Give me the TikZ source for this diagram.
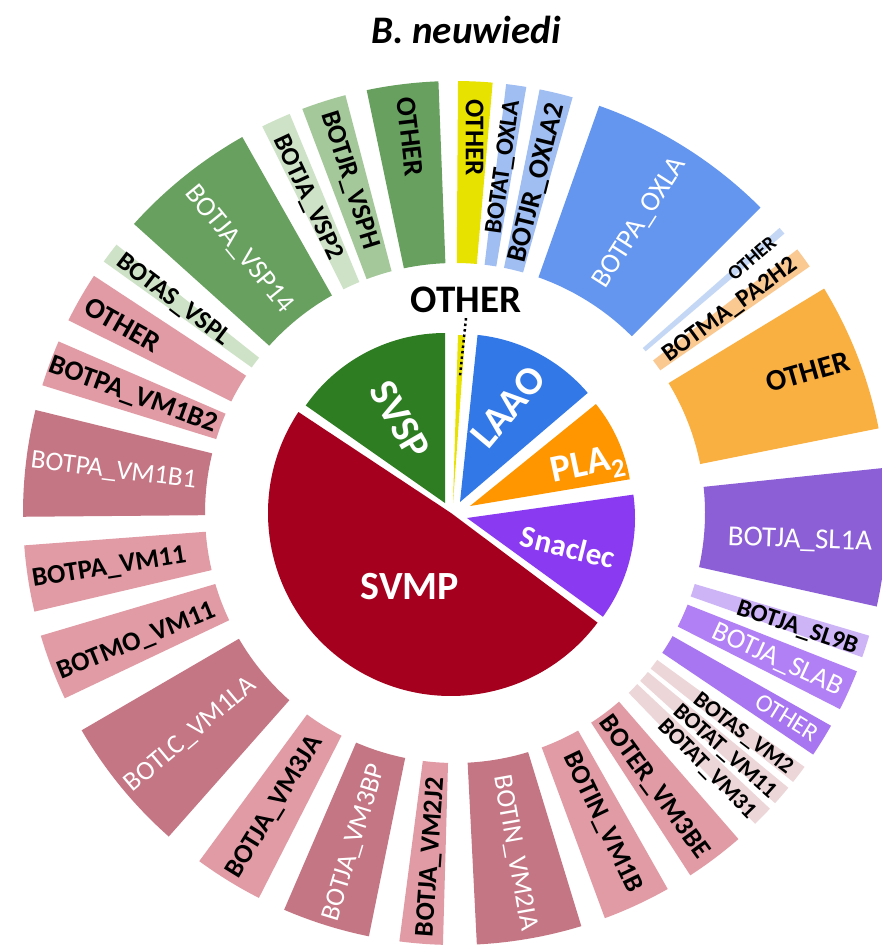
\documentclass[tikz,border=0pt]{standalone}
\usepackage{fontspec}
\setmainfont{Carlito}
\definecolor{cSVMP}{RGB}{165,0,30}
\definecolor{cSVSP}{RGB}{46,125,35}
\definecolor{cYel}{RGB}{232,226,0}
\definecolor{cLAAO}{RGB}{50,120,230}
\definecolor{cPLA}{RGB}{255,150,0}
\definecolor{cSnac}{RGB}{138,58,240}
\definecolor{pDark}{RGB}{196,118,132}
\definecolor{pLight}{RGB}{224,155,165}
\definecolor{pBeige}{RGB}{236,214,216}
\definecolor{gMed}{RGB}{104,160,96}
\definecolor{gLight}{RGB}{165,200,155}
\definecolor{gVLight}{RGB}{206,226,199}
\definecolor{bA}{RGB}{100,150,240}
\definecolor{bB}{RGB}{160,190,242}
\definecolor{bC}{RGB}{196,216,246}
\definecolor{oA}{RGB}{250,175,65}
\definecolor{oB}{RGB}{250,200,145}
\definecolor{uA}{RGB}{140,95,215}
\definecolor{uB}{RGB}{178,128,245}
\definecolor{uC}{RGB}{168,118,240}
\definecolor{uD}{RGB}{205,180,246}
\newcommand{\ringseg}[3]{\fill[#3] ([shift={(#1:250)}]C) arc[start angle=#1,end angle=#2,radius=250pt] -- ([shift={(#2:432)}]C) arc[start angle=#2,end angle=#1,radius=432pt] -- cycle;}
\newcommand{\rlab}[6]{\node[#5,rotate=#4] (#1) at ([shift={(#2:#3)}]C) {#6};}
\newcommand{\pslice}[5]{\fill[#5] (#1) -- ++(#3:#2) arc[start angle=#3,end angle=#4,radius=#2pt] -- cycle;}
\begin{document}
\begin{tikzpicture}[x=1pt,y=1pt,
  lbl/.style={inner sep=0pt,text=black,font=\bfseries\fontsize{27}{27}\selectfont},
  wlbl/.style={inner sep=0pt,text=white,font=\fontsize{27}{27}\selectfont},
  sml/.style={font=\bfseries\fontsize{#1}{#1}\selectfont},
  wsml/.style={font=\fontsize{#1}{#1}\selectfont},
  pielbl/.style={inner sep=0pt,text=white,font=\bfseries\fontsize{40}{40}\selectfont},
  leader/.style={black,line width=2.5pt,dash pattern=on 2.5pt off 3pt}]
\useasboundingbox (0,-947) rectangle (882,0);
\fill[white] (0,-947) rectangle (882,0);
\coordinate (C) at (455,-513);
% outer ring
\ringseg{85}{89.6}{cYel}
\ringseg{92.2}{101.8}{gMed}
\ringseg{104.7}{110.7}{gLight}
\ringseg{112.5}{116.5}{gVLight}
\ringseg{119.5}{138}{gMed}
\ringseg{141.6}{144.4}{gVLight}
\ringseg{146.7}{153.5}{pLight}
\ringseg{156.6}{162.8}{pLight}
\ringseg{166.2}{180.5}{pDark}
\ringseg{184.3}{193.2}{pLight}
\ringseg{196.5}{205.4}{pLight}
\ringseg{210.2}{228.5}{pDark}
\ringseg{233.7}{243}{pLight}
\ringseg{246.7}{258.5}{pDark}
\ringseg{262.6}{268.4}{pLight}
\ringseg{272.9}{287}{pDark}
\ringseg{290.3}{299.5}{pLight}
\ringseg{303}{311}{pLight}
\ringseg{314}{316.8}{pBeige}
\ringseg{317.8}{320.5}{pBeige}
\ringseg{321.5}{324}{pBeige}
\ringseg{326}{330.5}{uC}
\ringseg{333}{338.5}{uB}
\ringseg{340.5}{343.5}{uD}
\ringseg{-12.5}{6}{uA}
\ringseg{11.3}{31.3}{oA}
\ringseg{34.8}{37.6}{oB}
\ringseg{40.3}{41.3}{bC}
\ringseg{45}{70.5}{bA}
\ringseg{74.2}{78.7}{bB}
\ringseg{80.5}{83.2}{bB}
% outer labels
\rlab{l1}{87}{376}{-90}{lbl}{OTHER}
\rlab{l2}{96.8}{379}{-83.2}{lbl,sml=28}{OTHER}
\rlab{l3}{107.5}{349}{-72.5}{lbl}{BOTJR\_VSPH}
\rlab{l4}{115}{348}{-65}{lbl,sml=26}{BOTJA\_VSP2}
\rlab{l5}{129.3}{341}{-50.7}{wlbl,wsml=28}{BOTJA\_VSP14}
\rlab{l6}{142.9}{353}{-37.1}{lbl,sml=26}{BOTAS\_VSPL}
\rlab{l7}{150.5}{382}{-29.5}{lbl,sml=29}{OTHER}
\rlab{l8}{159.9}{343}{-20.1}{lbl,sml=28}{BOTPA\_VM1B2}
\rlab{l9}{173}{344}{-7}{wlbl}{BOTPA\_VM1B1}
\rlab{l10}{189}{350}{9}{lbl}{BOTPA\_VM11}
\rlab{l11}{202}{343}{22}{lbl}{BOTMO\_VM11}
\rlab{l12}{220}{345}{40}{wlbl}{BOTLC\_VM1LA}
\rlab{l13}{238.5}{345}{58.5}{lbl}{BOTJA\_VM3JA}
\rlab{l14}{253}{345}{73}{wlbl}{BOTJA\_VM3BP}
\rlab{l15}{266}{345}{86}{lbl}{BOTJA\_VM2J2}
\rlab{l16}{280}{345}{-80}{wlbl}{BOTIN\_VM2IA}
\rlab{l17}{295.5}{343}{-64.5}{lbl}{BOTIN\_VM1B}
\rlab{l18}{306}{339}{-54}{lbl}{BOTER\_VM3BE}
\rlab{l19}{314.5}{359}{-45.5}{lbl,sml=23}{BOTAT\_VM31}
\rlab{l20}{318.5}{360}{-41.5}{lbl,sml=23}{BOTAT\_VM11}
\rlab{l21}{322.5}{363}{-37.5}{lbl,sml=23}{BOTAS\_VM2}
\rlab{l22}{328.4}{390}{-31.6}{wlbl,wsml=25}{OTHER}
\rlab{l23}{335.5}{354}{-24.5}{wlbl,wsml=28}{BOTJA\_SLAB}
\rlab{l24}{341.4}{361}{-18.6}{lbl,sml=25}{BOTJA\_SL9B}
\rlab{l25}{-4.5}{346}{-2}{wlbl,wsml=29}{BOTJA\_SL1A}
\rlab{l26}{21.8}{380}{16}{lbl,sml=30}{OTHER}
\rlab{l27}{36.4}{342}{36}{lbl,sml=25}{BOTMA\_PA2H2}
\rlab{l28}{40.6}{391}{40.6}{lbl,sml=20}{OTHER}
\rlab{l29}{57.5}{344}{57.5}{wlbl,wsml=28}{BOTPA\_OXLA}
\rlab{l30}{76}{340}{76}{lbl,sml=28}{BOTJR\_OXLA2}
\rlab{l31}{82}{349}{82}{lbl,sml=25}{BOTAT\_OXLA}
% inner pie
\coordinate (aSVSP) at (445,-503);
\coordinate (aYel) at (453,-503);
\coordinate (aLAAO) at (460,-502);
\coordinate (aPLA) at (470,-506);
\coordinate (aSnac) at (467,-518);
\coordinate (aSVMP) at (451,-513);
\pslice{aSVSP}{170}{90}{145}{cSVSP}
\pslice{aYel}{168}{85.9}{88.3}{cYel}
\pslice{aLAAO}{168}{40.5}{84}{cLAAO}
\pslice{aPLA}{162}{9.5}{39}{cPLA}
\pslice{aSnac}{168}{-36}{8}{cSnac}
\pslice{aSVMP}{183}{146.5}{323.2}{cSVMP}
\node[pielbl,rotate=-60] (tSVSP) at (400,-420) {SVSP};
\node[pielbl,rotate=50] (tLAAO) at (508,-407) {LAAO};
\node[pielbl,rotate=12,font=\bfseries\fontsize{38}{38}\selectfont] (tPLA) at (588,-467) {PLA\textsubscript{2}};
\node[pielbl,rotate=-14,font=\bfseries\fontsize{31}{31}\selectfont] (tSnac) at (568,-547) {Snaclec};
\node[pielbl] (tSVMP) at (410,-587) {SVMP};
\node[inner sep=0pt,font=\bfseries\fontsize{39}{39}\selectfont] (tOther) at (466,-300) {OTHER};
\coordinate (sliv) at (460,-376);
\draw[leader] ([yshift=-5pt]tOther.south) -- (sliv);
% title
\node[inner sep=0pt,font=\bfseries\itshape\fontsize{39}{39}\selectfont] (title) at (466,-30) {B. neuwiedi};
\end{tikzpicture}
\end{document}
